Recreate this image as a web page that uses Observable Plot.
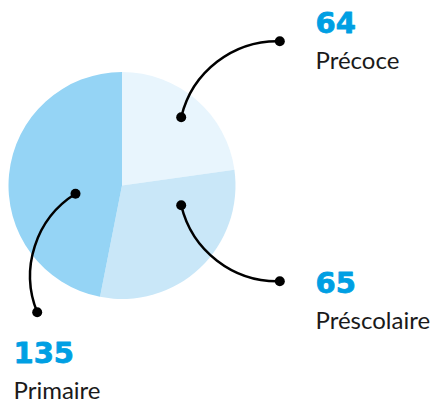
<!DOCTYPE html>
<html><head><meta charset="utf-8">
<script src="https://cdn.jsdelivr.net/npm/d3@7"></script>
<script src="https://cdn.jsdelivr.net/npm/@observablehq/plot@0.6"></script>
<style>html,body{margin:0;padding:0;background:#fff}</style>
</head><body><div id="chart"></div>
<script>
// ---- data ----
const categories = ["Précoce", "Préscolaire", "Primaire"];
const counts = [64, 65, 135];
// slice sizes as drawn in the picture (percent of the circle)
const sliceShares = [22.8, 30.3, 46.9];

// ---- styles / layout ----
const sliceColors = ["#e8f5fd", "#c9e7f8", "#95d4f5"];
const numberColor = "#009fe3";
const W = 437, H = 403;
const pieGeom = {cx: 122, cy: 185.5, r: 113.5};
const calloutLayout = [
  {x1: 180.7, y1: 116.7, x2: 279.3, y2: 40.7, bend: 39, tx: 315, ny: 32, ly: 68},
  {x1: 180.7, y1: 204.7, x2: 279.3, y2: 280.7, bend: -39, tx: 315, ny: 292, ly: 328},
  {x1: 75, y1: 193.3, x2: 36.7, y2: 311.7, bend: -40, tx: 13, ny: 362, ly: 398}
];

const rows = categories.map((c, i) => ({
  category: c, count: counts[i], share: sliceShares[i], color: sliceColors[i], ...calloutLayout[i]
}));

function pieMark(index, scales) {
  const arcs = d3.pie().sort(null).value(d => d.share)(rows);
  const cx = scales.x(pieGeom.cx), cy = scales.y(pieGeom.cy);
  const r = scales.x(pieGeom.cx + pieGeom.r) - cx;
  const arc = d3.arc().innerRadius(0).outerRadius(r);
  const g = d3.create("svg:g").attr("transform", `translate(${cx},${cy})`);
  g.selectAll("path").data(arcs).join("path")
    .attr("d", arc)
    .attr("fill", d => d.data.color);
  return g.node();
}

const arrows = rows.map(r => Plot.arrow([r], {x1: "x1", y1: "y1", x2: "x2", y2: "y2", bend: r.bend,
  headLength: 0, stroke: "#000", strokeWidth: 2.5}));

const chart = Plot.plot({
  width: W, height: H,
  margin: 0,
  x: {domain: [0, W], range: [0, W], axis: null},
  y: {domain: [0, H], range: [0, H], axis: null},
  style: {background: "#fff"},
  marks: [
    pieMark,
    ...arrows,
    Plot.dot(rows, {x: "x1", y: "y1", r: 5, fill: "#000"}),
    Plot.dot(rows, {x: "x2", y: "y2", r: 5, fill: "#000"}),
    Plot.text(rows, {x: "tx", y: "ny", text: d => String(d.count), textAnchor: "start", lineAnchor: "bottom",
      fontFamily: "DejaVu Sans", fontWeight: "bold", fontSize: 29, fill: numberColor, letterSpacing: 2.5,
      stroke: numberColor, strokeWidth: 0.8}),
    Plot.text(rows, {x: "tx", y: "ly", text: "category", textAnchor: "start", lineAnchor: "bottom",
      fontFamily: "Lato", fontSize: 24, fill: "#1a1a1a"})
  ]
});
document.getElementById("chart").appendChild(chart);
</script>
</body></html>
